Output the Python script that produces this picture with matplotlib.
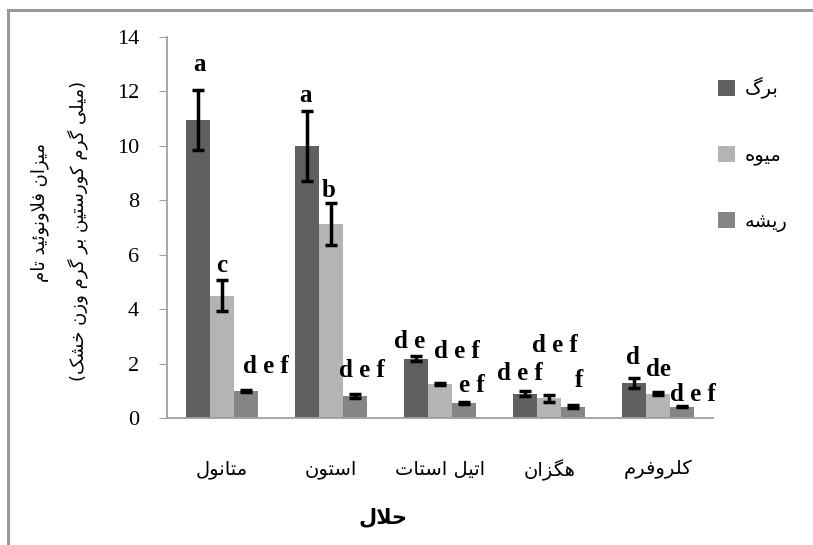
import numpy as np
import matplotlib
matplotlib.use('Agg')
import matplotlib.pyplot as plt
from matplotlib.lines import Line2D

plt.rcParams['font.family'] = ['Liberation Serif', 'DejaVu Sans']

# presentation forms: isolated, final, initial, medial
FORMS = {
	'ا': ('\ufe8d', '\ufe8e'),
	'ب': ('\ufe8f', '\ufe90', '\ufe91', '\ufe92'),
	'ت': ('\ufe95', '\ufe96', '\ufe97', '\ufe98'),
	'ح': ('\ufea1', '\ufea2', '\ufea3', '\ufea4'),
	'خ': ('\ufea5', '\ufea6', '\ufea7', '\ufea8'),
	'د': ('\ufea9', '\ufeaa'),
	'ر': ('\ufead', '\ufeae'),
	'ز': ('\ufeaf', '\ufeb0'),
	'س': ('\ufeb1', '\ufeb2', '\ufeb3', '\ufeb4'),
	'ش': ('\ufeb5', '\ufeb6', '\ufeb7', '\ufeb8'),
	'ف': ('\ufed1', '\ufed2', '\ufed3', '\ufed4'),
	'ل': ('\ufedd', '\ufede', '\ufedf', '\ufee0'),
	'م': ('\ufee1', '\ufee2', '\ufee3', '\ufee4'),
	'ن': ('\ufee5', '\ufee6', '\ufee7', '\ufee8'),
	'ه': ('\ufee9', '\ufeea', '\ufeeb', '\ufeec'),
	'و': ('\ufeed', '\ufeee'),
	'ئ': ('\ufe89', '\ufe8a', '\ufe8b', '\ufe8c'),
	'ی': ('\ufbfc', '\ufbfd', '\ufbfe', '\ufbff'),
	'ک': ('\ufb8e', '\ufb8f', '\ufb90', '\ufb91'),
	'گ': ('\ufb92', '\ufb93', '\ufb94', '\ufb95'),
}

def fa(text):
	# minimal shaping + right-to-left reordering, matplotlib does neither
	out = []
	i = 0
	while i < len(text):
		c = text[i]
		if c not in FORMS:
			out.append(c)
			i += 1
			continue
		prev = text[i-1] if i > 0 else ''
		joins_prev = prev in FORMS and len(FORMS[prev]) == 4
		if c == 'ل' and i+1 < len(text) and text[i+1] == 'ا':
			out.append('\ufefc' if joins_prev else '\ufefb')
			i += 2
			continue
		nxt = text[i+1] if i+1 < len(text) else ''
		joins_next = len(FORMS[c]) == 4 and nxt in FORMS
		f = FORMS[c]
		if joins_prev and joins_next:
			out.append(f[3])
		elif joins_prev:
			out.append(f[1])
		elif joins_next:
			out.append(f[2])
		else:
			out.append(f[0])
		i += 1
	return ''.join(out)[::-1].translate(str.maketrans('()', ')('))

solvents = ['متانول', 'استون', 'اتیل استات', 'هگزان', 'کلروفرم']
series = ['برگ', 'میوه', 'ریشه']
leaf = [10.95, 10.0, 2.17, 0.9, 1.3]
leaf_err = [1.12, 1.28, 0.09, 0.1, 0.18]
fruit = [4.5, 7.12, 1.25, 0.72, 0.9]
fruit_err = [0.57, 0.78, 0.04, 0.12, 0.07]
root = [0.99, 0.82, 0.55, 0.42, 0.42]
root_err = [0.04, 0.07, 0.04, 0.04, 0.03]
letters = [
	['a', 'c', 'd e f'],
	['a', 'b', 'd e f'],
	['d e', 'd e f', 'e f'],
	['d e f', 'd e f', 'f'],
	['d', 'de', 'd e f'],
]

colors = ['#606060', '#b4b4b4', '#858585']

# label placement (y centre in data units, x shift in category units)
label_y = [
	[12.98, 5.59, 1.88],
	[11.84, 8.36, 1.76],
	[2.81, 2.46, 1.18],
	[1.65, 2.68, 1.36],
	[2.24, 1.80, 0.88],
]
label_dx = [
	[0.02, 0.0, 0.19],
	[-0.01, -0.02, 0.06],
	[-0.06, 0.15, 0.07],
	[-0.05, 0.05, 0.05],
	[-0.01, 0.0, 0.10],
]

fig = plt.figure(figsize=(8.13, 5.45), dpi=100)
ax = fig.add_axes([167/813, 1-418/545, (713-167)/813, (418-37)/545])

x = np.arange(len(solvents))
w = 0.22
ekw = dict(elinewidth=2.5, capthick=2.5, ecolor='black')
vals = [leaf, fruit, root]
errs = [leaf_err, fruit_err, root_err]
for k in range(3):
	ax.bar(x + (k-1)*w, vals[k], w, yerr=errs[k], color=colors[k], capsize=4,
		error_kw=ekw, label=fa(series[k]), zorder=2)

for g in range(len(solvents)):
	for k in range(3):
		ax.text(x[g] + (k-1)*w + label_dx[g][k], label_y[g][k], letters[g][k],
			ha='center', va='center', fontsize=18, fontweight='bold',
			family='Liberation Serif')

ax.set_xlim(-0.5, len(solvents)-0.5)
ax.set_ylim(0, 14)
ax.set_yticks(np.arange(0, 15, 2))
ax.set_xticks(x)
ax.set_xticklabels([fa(s) for s in solvents], fontsize=14, family='DejaVu Sans')
ax.tick_params(axis='x', length=0, pad=30)
ax.tick_params(axis='y', length=6, color='#a0a0a0', labelsize=16, pad=14)
for s in ['top', 'right']:
	ax.spines[s].set_visible(False)
for s in ['left', 'bottom']:
	ax.spines[s].set_color('#a0a0a0')
	ax.spines[s].set_linewidth(1.3)

fig.legend(loc='upper left', bbox_to_anchor=(700/813, 1-60/545), frameon=False,
	prop={'family': 'DejaVu Sans', 'size': 14}, handlelength=0.9, handleheight=0.9,
	labelspacing=2.4, handletextpad=0.5)

fig.text(383/813, 1-517/545, fa('حلال'), ha='center', va='center', fontsize=15,
	fontweight='bold', family='DejaVu Sans')
fig.text(40/813, 1-213/545, fa('میزان فلاونوئید تام'), rotation=90, ha='center',
	va='center', fontsize=13, family='DejaVu Sans')
fig.text(78/813, 1-231/545, fa('(میلی گرم کورستین بر گرم وزن خشک)'), rotation=90,
	ha='center', va='center', fontsize=13, family='DejaVu Sans')

# outer frame
fig.add_artist(Line2D([8/813, 8/813], [0, 1-10/545], color='#999999', lw=2.2, transform=fig.transFigure))
fig.add_artist(Line2D([8/813, 1], [1-10/545, 1-10/545], color='#999999', lw=2.2, transform=fig.transFigure))

fig.savefig('out.png', dpi=100)
